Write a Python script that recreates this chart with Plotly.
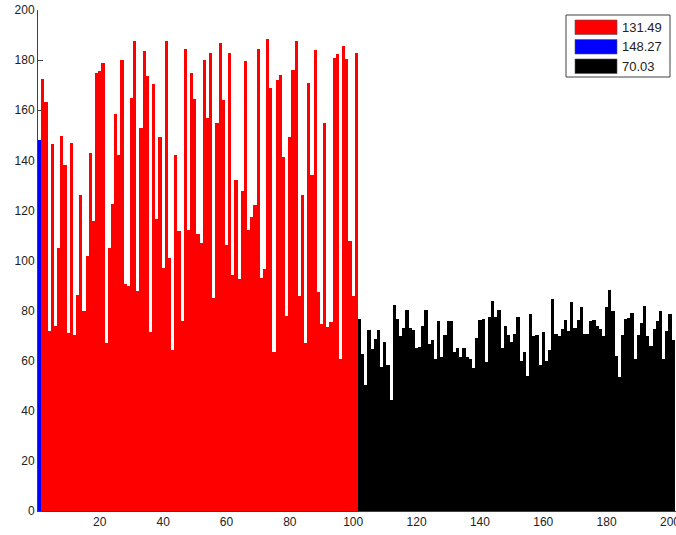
import plotly.graph_objects as go

# ---- data ----
blue_values = [148.27]
red_values = [172.3, 163.2, 71.7, 146.4, 74.0, 104.9, 149.7, 138.0, 70.9, 146.8, 70.3, 86.4, 126.0, 80.0, 101.7,
              142.8, 115.9, 175.0, 175.6, 179.0, 67.0, 105.0, 122.4,
              158.4, 142.0, 180.1, 90.7, 89.7, 165.0, 187.5, 87.7, 153.0, 183.5, 173.5, 71.3, 170.3, 116.4, 149.3,
              97.0, 187.5, 101.0, 64.4, 142.0, 111.6, 75.9, 184.3, 112.0, 174.8, 164.4,
              110.7, 107.0, 180.0, 156.8, 183.0, 85.0, 154.7, 187.0, 164.1, 106.1, 183.0, 94.3, 132.0, 92.7, 127.6,
              179.7, 112.0, 117.2, 122.3, 184.3, 93.2, 96.8, 188.4, 168.7, 63.5,
              172.0, 174.0, 141.2, 78.0, 149.3, 176.0, 187.5, 85.7, 126.0, 67.0, 170.8, 134.3, 183.9, 87.3, 74.8,
              154.7, 73.5, 75.5, 181.0, 182.3, 60.7, 185.5, 180.5, 107.6, 85.7, 182.7]
black_values = [76.7, 62.7, 50.4, 72.1, 64.8, 68.7, 72.1, 57.5, 67.6, 58.3, 44.4, 82.4, 76.7, 69.7, 73.1, 80.4,
                73.1, 72.4, 65.2, 65.5, 73.7, 80.4, 66.8, 68.4,
                60.7, 75.7, 61.5, 70.4, 75.7, 75.7, 63.6, 65.1, 61.5, 65.1, 61.5, 60.7, 56.9, 69.1, 76.4, 76.7, 59.3,
                77.3, 84.0, 77.5, 80.1, 65.1, 74.0, 70.4, 67.6, 70.8,
                77.3, 60.0, 63.6, 54.0, 78.8, 69.7, 70.1, 58.1, 71.5, 60.0, 64.4, 84.8, 70.8, 69.7, 72.7, 76.1, 71.7,
                83.6, 72.9, 76.1, 81.5, 70.5, 70.5, 75.7, 76.1,
                74.0, 72.7, 69.7, 81.5, 88.4, 79.7, 61.7, 53.3, 70.4, 76.7, 77.1, 79.1, 60.7, 70.4, 75.1, 82.0, 69.7,
                66.0, 72.7, 76.0, 80.0, 60.7, 72.0, 78.8, 68.4]
legend_labels = ["131.49", "148.27", "70.03"]
series_colors = ["#FF0000", "#0000FF", "#000000"]
x_ticks = [20, 40, 60, 80, 100, 120, 140, 160, 180, 200]
y_ticks = [0, 20, 40, 60, 80, 100, 120, 140, 160, 180, 200]

blue_x = [1]
red_x = list(range(2, 2 + len(red_values)))
black_x = list(range(red_x[-1] + 1, red_x[-1] + 1 + len(black_values)))

fig = go.Figure()
for xs, ys, col, name in [(red_x, red_values, series_colors[0], legend_labels[0]),
                          (blue_x, blue_values, series_colors[1], legend_labels[1]),
                          (black_x, black_values, series_colors[2], legend_labels[2])]:
    fig.add_trace(go.Bar(x=xs, y=ys, width=1, marker=dict(color=col, line=dict(width=0)),
                         name=name, showlegend=False))

W, H = 676, 535
ml, mr, mt, mb = 38, 0, 10, 24
pw, ph = W - ml - mr, H - mt - mb

def px2paper(px, py):
    return (px - ml) / pw, (H - mb - py) / ph

# custom MATLAB-like legend (wide swatches)
shapes = []
annotations = []
x0, y0 = px2paper(566, 15)
x1, y1 = px2paper(670, 77)
shapes.append(dict(type="rect", xref="paper", yref="paper", x0=x0, y0=y1, x1=x1, y1=y0,
                   line=dict(color="#404040", width=1), fillcolor="white", layer="above"))
row_tops = [20, 39.5, 59]
for top, col, lab in zip(row_tops, series_colors, legend_labels):
    sx0, sy0 = px2paper(575, top)
    sx1, sy1 = px2paper(617, top + 14.5)
    shapes.append(dict(type="rect", xref="paper", yref="paper", x0=sx0, y0=sy1, x1=sx1, y1=sy0,
                       line=dict(color="#555555", width=0.6), fillcolor=col, layer="above"))
    tx, ty = px2paper(620, top + 7.5)
    annotations.append(dict(xref="paper", yref="paper", x=tx, y=ty, text=lab, showarrow=False,
                            xanchor="left", yanchor="middle",
                            font=dict(family="Liberation Sans, Arial, sans-serif", size=13, color="#222222")))

fig.update_layout(
    width=W, height=H,
    margin=dict(l=ml, r=mr, t=mt, b=mb, pad=0, autoexpand=False),
    paper_bgcolor="white", plot_bgcolor="white",
    bargap=0, barmode="overlay",
    showlegend=False,
    font=dict(family="Liberation Sans, Arial, sans-serif", size=12, color="#222222"),
    shapes=shapes, annotations=annotations,
)
fig.update_xaxes(range=[0.5, 201.9], tickvals=x_ticks, ticktext=[str(v) for v in x_ticks],
                 ticks="", showline=True, linecolor="#404040", linewidth=1,
                 showgrid=False, zeroline=False, layer="below traces",
                 ticklabeloverflow="allow", automargin=False,
                 tickfont=dict(size=12, color="#222222"))
fig.update_yaxes(range=[0, 200], tickvals=y_ticks, ticktext=[str(v) for v in y_ticks],
                 ticks="inside", ticklen=5, tickcolor="#404040", tickwidth=1,
                 showline=True, linecolor="#404040", linewidth=1,
                 showgrid=False, zeroline=False, layer="below traces",
                 ticklabeloverflow="allow", automargin=False,
                 tickfont=dict(size=12, color="#222222"))

fig.write_html("out.html")
